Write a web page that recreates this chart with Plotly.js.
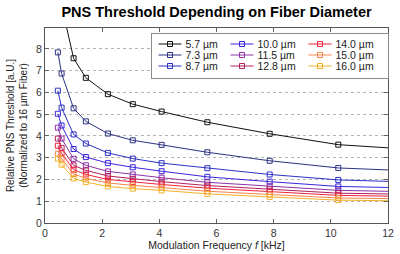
<!DOCTYPE html>
<html>
<head>
<meta charset="utf-8">
<script src="https://cdn.plot.ly/plotly-3.0.1.min.js"></script>
<style>html,body{margin:0;padding:0;background:#fff;}#chart{width:400px;height:254px;}</style>
</head>
<body>
<div id="chart"></div>
<script>
// Modulation frequency f [kHz]
const freq = [0.45, 0.58, 1.0, 1.43, 2.2, 3.07, 4.08, 5.68, 7.86, 10.26, 15.0];
// Relative PNS threshold per fiber diameter
const d57  = [11.4, 10.0, 7.57, 6.67, 5.92, 5.46, 5.12, 4.63, 4.10, 3.60, 3.20];
const d73  = [7.84, 6.87, 5.27, 4.67, 4.11, 3.80, 3.59, 3.25, 2.86, 2.53, 2.28];
const d87  = [6.08, 5.30, 4.07, 3.65, 3.22, 2.96, 2.75, 2.52, 2.23, 1.98, 1.80];
const d100 = [5.02, 4.48, 3.40, 3.03, 2.75, 2.56, 2.38, 2.12, 1.90, 1.68, 1.55];
const d115 = [4.38, 3.88, 2.95, 2.65, 2.37, 2.23, 2.08, 1.87, 1.69, 1.50, 1.38];
const d128 = [3.88, 3.45, 2.65, 2.42, 2.16, 2.03, 1.90, 1.72, 1.55, 1.37, 1.27];
const d140 = [3.55, 3.20, 2.45, 2.23, 2.00, 1.88, 1.77, 1.60, 1.43, 1.27, 1.17];
const d150 = [3.18, 2.95, 2.25, 2.05, 1.84, 1.73, 1.63, 1.46, 1.31, 1.15, 1.07];
const d160 = [2.96, 2.68, 2.05, 1.88, 1.68, 1.58, 1.50, 1.34, 1.20, 1.05, 0.98];

const seriesNames = ['5.7 µm','7.3 µm','8.7 µm','10.0 µm','11.5 µm','12.8 µm','14.0 µm','15.0 µm','16.0 µm'];
const seriesData = [d57, d73, d87, d100, d115, d128, d140, d150, d160];
const seriesColors = ['#111111','#2c3282','#2b31c4','#3a25de','#8d32a8','#b3205c','#f0243c','#f5844a','#f2b227'];
// legend reads column-wise (3 rows x 3 columns)
const legendRanks = [1, 4, 7, 2, 5, 8, 3, 6, 9];

const xTicks = [0, 2, 4, 6, 8, 10, 12];
const yTicks = [0, 1, 2, 3, 4, 5, 6, 7, 8];

const traces = seriesData.map((vals, i) => ({
  type: 'scatter',
  mode: 'lines+markers',
  x: freq,
  y: vals,
  name: seriesNames[i],
  legendrank: legendRanks[i],
  line: {color: seriesColors[i], width: 1},
  marker: {symbol: 'square-open', size: 5, color: seriesColors[i], line: {width: 1, color: seriesColors[i]}},
  hoverinfo: 'skip'
}));

const font = 'Liberation Sans, Arial, sans-serif';
const layout = {
  width: 400, height: 254,
  margin: {l: 45, r: 12, t: 28, b: 31},
  paper_bgcolor: '#ffffff', plot_bgcolor: '#ffffff',
  font: {family: font, size: 10, color: '#333333'},
  title: {text: '<b>PNS Threshold Depending on Fiber Diameter</b>', font: {family: font, size: 14.5, color: '#000000'},
          x: 0.5, xref: 'paper', xanchor: 'center', y: 0.955, yref: 'container', yanchor: 'middle'},
  showlegend: true,
  legend: {
    orientation: 'h', x: 0.995, xanchor: 'right', y: 0.975, yanchor: 'top',
    bgcolor: '#ffffff', bordercolor: '#8a8a8a', borderwidth: 1,
    font: {family: font, size: 10.5, color: '#222222'},
    entrywidth: 44, traceorder: 'normal', itemwidth: 30
  },
  xaxis: {
    range: [0, 12], tickvals: xTicks, ticktext: xTicks.map(String),
    ticks: 'inside', ticklen: 4, tickcolor: '#666', mirror: 'ticks',
    showline: true, linecolor: '#555555', linewidth: 1,
    showgrid: false, zeroline: false,
    tickfont: {family: font, size: 10.5, color: '#333'},
    title: {text: 'Modulation Frequency <i>f</i> [kHz]', font: {family: font, size: 10.5, color: '#222'}, standoff: 4}
  },
  yaxis: {
    range: [0, 8.96], tickvals: yTicks, ticktext: yTicks.map(String),
    ticks: 'inside', ticklen: 4, tickcolor: '#666', mirror: 'ticks',
    showline: true, linecolor: '#555555', linewidth: 1,
    showgrid: true, gridcolor: '#b5b5b5', griddash: 'dot', gridwidth: 1, zeroline: false,
    tickfont: {family: font, size: 10.5, color: '#333'},
    title: {text: 'Relative PNS Threshold [a.U.]<br>(Normalized to 16 µm Fiber)', font: {family: font, size: 10, color: '#222'}, standoff: 6}
  }
};

// compact the legend into a tight 3x3 grid like the reference
function compactLegend(gd) {
  const leg = gd.querySelector('g.legend');
  if (!leg) return;
  const items = Array.from(leg.querySelectorAll('g.traces'));
  const pos = items.map(g => {
    const m = /translate\(\s*([-\d.]+)[ ,]+([-\d.]+)/.exec(g.getAttribute('transform') || '');
    return {g, x: m ? +m[1] : 0, y: m ? +m[2] : 0};
  });
  pos.sort((a, b) => (a.y - b.y) || (a.x - b.x));
  const colX = [2, 74, 152], rowY0 = 11.5, rowH = 11, boxW = 237, boxH = 45;
  pos.forEach((p, k) => {
    const row = Math.floor(k / 3), col = k % 3;
    p.g.setAttribute('transform', `translate(${colX[col]},${rowY0 + row * rowH})`);
    p.g.querySelectorAll('.legendlines path').forEach(l => l.setAttribute('d', 'M6,0h23'));
    p.g.querySelectorAll('.legendpoints path').forEach(pt => pt.setAttribute('transform', 'translate(17.5,0)'));
    p.g.querySelectorAll('text.legendtext').forEach(t => t.setAttribute('x', 33));
  });
  const bg = leg.querySelector('rect.bg');
  if (bg) { bg.setAttribute('width', boxW); bg.setAttribute('height', boxH); }
  leg.setAttribute('transform', 'translate(150.5,32.5)');
}

const gd = document.getElementById('chart');
Plotly.newPlot(gd, traces, layout, {displayModeBar: false, staticPlot: true}).then(() => compactLegend(gd));
</script>
</body>
</html>
